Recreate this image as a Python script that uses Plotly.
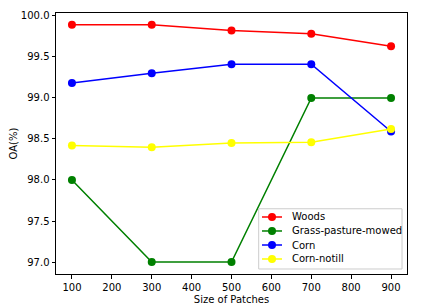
import plotly.graph_objects as go

patch_sizes = [100, 300, 500, 700, 900]
woods = [99.89, 99.89, 99.82, 99.78, 99.63]
grass_pasture_mowed = [98.0, 97.0, 97.0, 99.0, 99.0]
corn = [99.18, 99.30, 99.41, 99.41, 98.59]
corn_notill = [98.42, 98.40, 98.45, 98.46, 98.62]

series = [
    ("Woods", woods, "red"),
    ("Grass-pasture-mowed", grass_pasture_mowed, "green"),
    ("Corn", corn, "blue"),
    ("Corn-notill", corn_notill, "yellow"),
]

fig = go.Figure()
for name, vals, color in series:
    fig.add_trace(go.Scatter(
        x=patch_sizes, y=vals, name=name, mode="lines+markers",
        line=dict(color=color, width=1.5),
        marker=dict(color=color, size=8),
        showlegend=False,
    ))

# custom compact legend (matplotlib style)
shapes = [dict(type="rect", xref="paper", yref="paper",
               x0=0.5775, x1=0.9858, y0=0.0192, y1=0.250,
               fillcolor="rgba(255,255,255,0.8)", line=dict(color="#cccccc", width=1),
               layer="above")]
annotations = []
row_y = [0.2184, 0.1648, 0.1111, 0.0575]
for (name, vals, color), yy in zip(series, row_y):
    shapes.append(dict(type="line", xref="paper", yref="paper",
                       x0=0.5869, x1=0.6439, y0=yy, y1=yy,
                       line=dict(color=color, width=1.5), layer="above"))
    shapes.append(dict(type="circle", xref="paper", yref="paper",
                       xsizemode="pixel", ysizemode="pixel",
                       xanchor=0.6154, yanchor=yy, x0=-4, x1=4, y0=-4, y1=4,
                       fillcolor=color, line=dict(color=color, width=0), layer="above"))
    annotations.append(dict(text=name, xref="paper", yref="paper", x=0.6667, y=yy,
                            xanchor="left", yanchor="middle", showarrow=False,
                            font=dict(size=10, color="black")))

font = "DejaVu Sans"
fig.update_layout(
    width=417, height=300,
    margin=dict(l=48, r=18, t=5, b=34),
    paper_bgcolor="white", plot_bgcolor="white",
    font=dict(family=font, size=10, color="black"),
    showlegend=False,
    shapes=shapes, annotations=annotations,
    xaxis=dict(
        range=[60, 940], tickvals=[100, 200, 300, 400, 500, 600, 700, 800, 900],
        showgrid=False, zeroline=False, showline=True, linecolor="black", linewidth=1,
        mirror=True, ticks="outside", ticklen=3.5, tickcolor="black", automargin=False,
        title=dict(text="Size of Patches", font=dict(size=10), standoff=4),
    ),
    yaxis=dict(
        range=[96.855, 100.034], tickvals=[97.0, 97.5, 98.0, 98.5, 99.0, 99.5, 100.0],
        ticktext=["97.0", "97.5", "98.0", "98.5", "99.0", "99.5", "100.0"],
        showgrid=False, zeroline=False, showline=True, linecolor="black", linewidth=1,
        mirror=True, ticks="outside", ticklen=3.5, tickcolor="black", automargin=False,
        title=dict(text="OA(%)", font=dict(size=10), standoff=6),
    ),
)

fig.write_html("out.html")
